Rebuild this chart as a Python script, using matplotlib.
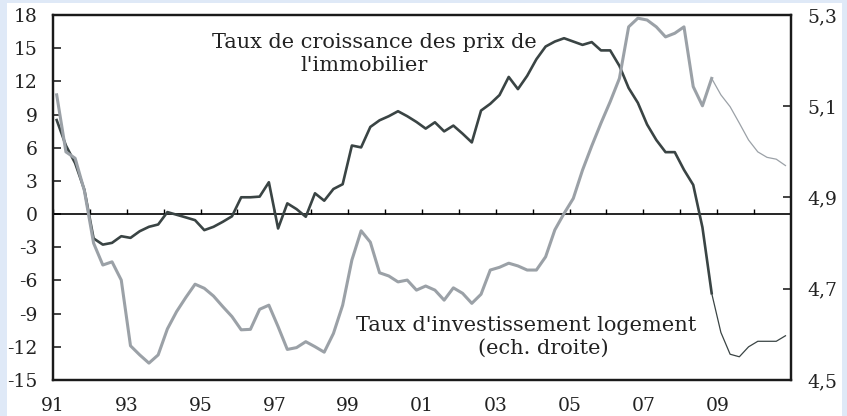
import numpy as np
import matplotlib
matplotlib.use("Agg")
import matplotlib.pyplot as plt
from matplotlib.patches import Rectangle

plt.rcParams['font.family'] = ['DejaVu Serif']

# quarterly data, 1991Q1 -> 2010Q4 (last quarters are projections, thin lines)
quarters = 1991.1 + 0.25 * np.arange(80)
proj_start = 71

house_price = [8.5, 6.2, 4.6, 2.2, -2.2, -2.76, -2.6, -2.0, -2.15, -1.55,
               -1.15, -0.94, 0.18, -0.06, -0.3, -0.55, -1.45, -1.15, -0.7, -0.2,
               1.52, 1.52, 1.58, 2.88, -1.3, 0.97, 0.45, -0.24, 1.88, 1.21,
               2.27, 2.7, 6.2, 6.03, 7.88, 8.48, 8.85, 9.3, 8.85, 8.33,
               7.73, 8.3, 7.48, 8.0, 7.27, 6.48, 9.36, 9.97, 10.76, 12.4,
               11.3, 12.5, 14.0, 15.15, 15.6, 15.9, 15.6, 15.3, 15.55, 14.8,
               14.8, 13.4, 11.4, 10.06, 8.1, 6.7, 5.6, 5.6, 4.0, 2.64,
               -1.2, -7.15, -10.7, -12.67, -12.9, -12.0, -11.5, -11.5, -11.5, -11.0]

invest_rate = [5.125, 5.000, 4.986, 4.915, 4.80, 4.752, 4.759, 4.719, 4.575, 4.555,
               4.537, 4.555, 4.612, 4.650, 4.681, 4.710, 4.701, 4.684, 4.661, 4.639,
               4.610, 4.611, 4.655, 4.664, 4.617, 4.567, 4.571, 4.584, 4.573, 4.561,
               4.602, 4.664, 4.763, 4.827, 4.802, 4.735, 4.728, 4.715, 4.719, 4.697,
               4.706, 4.697, 4.675, 4.702, 4.690, 4.668, 4.688, 4.741, 4.747, 4.756,
               4.750, 4.741, 4.741, 4.770, 4.829, 4.865, 4.898, 4.960, 5.013, 5.063,
               5.11, 5.161, 5.274, 5.293, 5.289, 5.274, 5.252, 5.260, 5.274, 5.143,
               5.101, 5.161, 5.125, 5.099, 5.063, 5.026, 5.000, 4.988, 4.984, 4.970]

left_ticks = [-15, -12, -9, -6, -3, 0, 3, 6, 9, 12, 15, 18]
right_ticks = [4.5, 4.7, 4.9, 5.1, 5.3]
right_labels = ["4,5", "4,7", "4,9", "5,1", "5,3"]
year_ticks = list(range(1991, 2011, 2))
year_labels = ["91", "93", "95", "97", "99", "01", "03", "05", "07", "09"]

dark = "#3a4444"
grey = "#9ba1a7"

fig = plt.figure(figsize=(8.47, 4.16), dpi=100)
fig.patch.set_facecolor("#dfe9f7")
bg = Rectangle((7 / 847, 0), 835 / 847, 413 / 416, transform=fig.transFigure,
               facecolor="white", edgecolor="none", zorder=-10)
fig.add_artist(bg)

ax = fig.add_axes([53 / 847, 1 - 380 / 416, 738 / 847, 365 / 416])
ax.set_facecolor("none")
ax2 = ax.twinx()

# house prices (left axis)
ax.plot(quarters[:proj_start + 1], house_price[:proj_start + 1], color=dark, lw=1.9, zorder=3)
ax.plot(quarters[proj_start:], house_price[proj_start:], color=dark, lw=0.9, zorder=3)

# investment rate (right axis)
ax2.plot(quarters[:proj_start + 1], invest_rate[:proj_start + 1], color=grey, lw=2.2)
ax2.plot(quarters[proj_start:], invest_rate[proj_start:], color=grey, lw=0.9)

ax.set_xlim(1991, 2011)
ax.set_ylim(-15, 18)
ax2.set_ylim(4.5, 5.3)

# zero line with yearly ticks
ax.axhline(0, color="black", lw=1.2, zorder=2)
ax.vlines(np.arange(1991, 2012), 0, 0.5, color="black", lw=1.0, zorder=2)

ax.set_yticks(left_ticks)
ax.set_yticklabels([str(t) for t in left_ticks])
ax.set_xticks(year_ticks)
ax.set_xticklabels(year_labels)
ax2.set_yticks(right_ticks)
ax2.set_yticklabels(right_labels)

ax.tick_params(axis="y", direction="in", length=6, width=1.2, pad=11, labelsize=13.5, colors="#222222")
ax.tick_params(axis="x", length=0, pad=12, labelsize=13.5, colors="#222222")
ax2.tick_params(axis="y", direction="in", length=6, width=1.2, pad=12, labelsize=13.5, colors="#222222")

for a in (ax, ax2):
    for s in a.spines.values():
        s.set_color("#1a1a1a")
        s.set_linewidth(1.6)

txt = dict(ha="center", va="center", fontsize=15, color="#222222")
ax.text(1999.70, 15.5, "Taux de croissance des prix de", **txt)
ax.text(1999.43, 13.4, "l'immobilier", **txt)
ax.text(2003.81, -10.1, "Taux d'investissement logement", **txt)
ax.text(2004.30, -12.1, "(ech. droite)", **txt)

fig.savefig("out.png", dpi=100, facecolor=fig.get_facecolor())
